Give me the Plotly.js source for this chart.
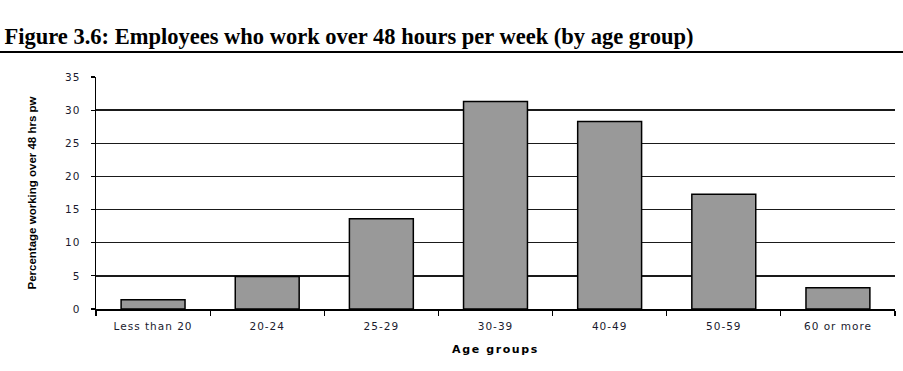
<!DOCTYPE html>
<html>
<head>
<meta charset="utf-8">
<script src="https://cdn.plot.ly/plotly-3.0.1.min.js"></script>
<style>
html,body{margin:0;padding:0;background:#fff;}
#chart{width:903px;height:371px;}
#chart .xtick text{letter-spacing:1px;}
#chart .ytick text{letter-spacing:1px;}
#chart .g-xtitle text{letter-spacing:1.6px;}
</style>
</head>
<body>
<div id="chart"></div>
<script>
const categories = ["Less than 20", "20-24", "25-29", "30-39", "40-49", "50-59", "60 or more"];
const percentages = [1.4, 4.9, 13.6, 31.3, 28.3, 17.3, 3.2];
const yTicks = [0, 5, 10, 15, 20, 25, 30, 35];

const trace = {
  type: "bar",
  x: categories,
  y: percentages,
  width: 0.56,
  marker: {color: "#999999", line: {color: "#000000", width: 1.5}},
  hoverinfo: "x+y"
};

const layout = {
  width: 903, height: 371,
  margin: {l: 96, r: 8, t: 77, b: 62},
  paper_bgcolor: "#ffffff", plot_bgcolor: "#ffffff",
  showlegend: false,
  title: {
    text: "<b>Figure 3.6: Employees who work over 48 hours per week (by age group)</b>",
    font: {family: "Liberation Serif, serif", size: 22.5, color: "#000"},
    x: 0.005, xanchor: "left", xref: "container", y: 0.903, yanchor: "middle", yref: "container"
  },
  xaxis: {
    type: "category",
    tickson: "boundaries",
    ticks: "outside", ticklen: 5, tickwidth: 1.2, tickcolor: "#000",
    showline: true, linecolor: "#000", linewidth: 1.5,
    showgrid: false, zeroline: false,
    tickfont: {family: "DejaVu Sans, Verdana, sans-serif", size: 10.5, color: "#1a1a2e"},
    ticklabelstandoff: 7,
    title: {text: "<b>Age groups</b>", font: {family: "DejaVu Sans, Verdana, sans-serif", size: 11, color: "#000"}, standoff: 14}
  },
  yaxis: {
    range: [0, 35],
    tickvals: yTicks,
    ticks: "outside", ticklen: 4, tickwidth: 1.2, tickcolor: "#000",
    showline: true, linecolor: "#000", linewidth: 1.5,
    showgrid: true, gridcolor: "#1a1a1a", gridwidth: 1.4,
    zeroline: false,
    tickfont: {family: "DejaVu Sans, Verdana, sans-serif", size: 10.5, color: "#1a1a2e"},
    ticklabelstandoff: 8,
    title: {text: "<b>Percentage working over 48 hrs pw</b>", font: {family: "Liberation Sans, Arial, sans-serif", size: 11.5, color: "#000"}, standoff: 28}
  },
  shapes: [
    {type: "line", xref: "paper", yref: "paper", x0: -0.125, x1: 1.015, y0: 1.108, y1: 1.108, line: {color: "#000", width: 2}}
  ]
};

Plotly.newPlot("chart", [trace], layout, {displayModeBar: false, staticPlot: true});
</script>
</body>
</html>
